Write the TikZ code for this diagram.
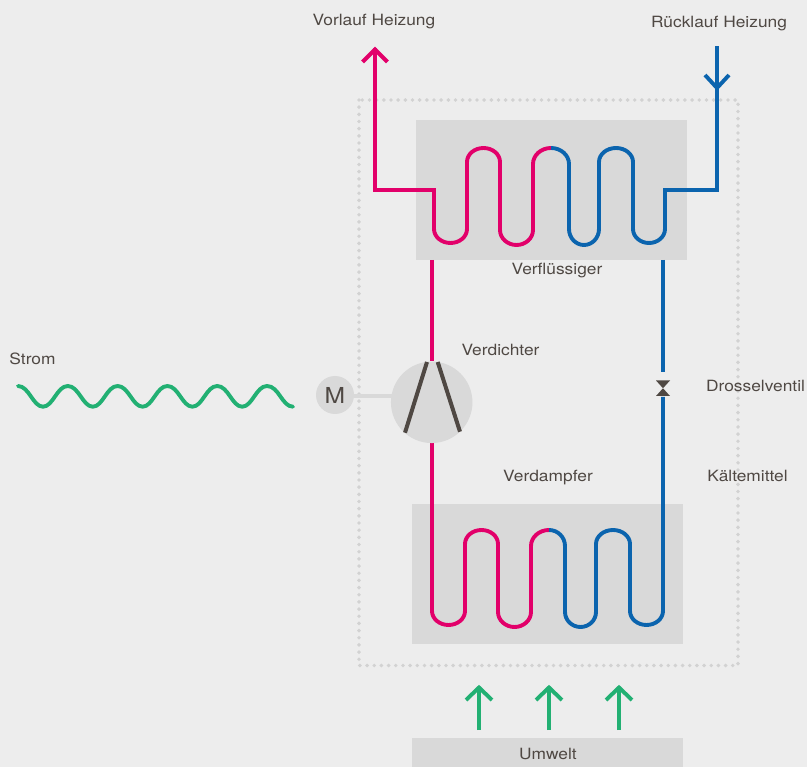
\documentclass[tikz,border=0pt]{standalone}
\usepackage{fontspec}
\setmainfont[FakeStretch=1.12]{TeX Gyre Heros}
\definecolor{bgc}{HTML}{EDEDED}
\definecolor{boxc}{HTML}{D9D9D9}
\definecolor{pinkc}{HTML}{E2006A}
\definecolor{bluec}{HTML}{0B64AE}
\definecolor{greenc}{HTML}{22B073}
\definecolor{darkc}{HTML}{4F4843}
\definecolor{dotc}{HTML}{D2D2D2}
\tikzset{
  pipe/.style={line width=3.9pt,line join=miter},
  lbl/.style={font=\fontsize{15.5}{17}\selectfont,text=darkc,inner sep=0pt,anchor=base},
  panel/.style={fill=boxc,draw=none},
}
\begin{document}
\begin{tikzpicture}[x=1pt,y=-1pt]
\useasboundingbox (0,0) rectangle (807,767);
\fill[bgc] (0,0) rectangle (807,767);
% dotted frame
\draw[dotc,line width=3.9pt,line cap=round,dash pattern=on 0pt off 7.17pt] (359,100) rectangle (738,665.5);
% panels
\fill[panel] (416,120) rectangle (687,260);
\fill[panel] (412,504) rectangle (683,644);
\fill[panel] (412,738) rectangle (683,767);
\coordinate (vl) at (375,48);
\coordinate (rl) at (717,46);
% upper coil pink
\draw[pinkc,pipe] (375,190) -- (434,190) -- (434,229) arc[start angle=180,end angle=0,x radius=16.5,y radius=14] -- (467,162) arc[start angle=180,end angle=0,x radius=16.5,y radius=-14] -- (500,230) arc[start angle=180,end angle=0,x radius=16.5,y radius=15] -- (533,164) arc[start angle=180,end angle=90,x radius=18,y radius=-16];
\draw[bluec,pipe] (551,148) arc[start angle=90,end angle=0,x radius=18,y radius=-16] -- (569,229) arc[start angle=180,end angle=0,x radius=15,y radius=16] -- (599,162) arc[start angle=180,end angle=0,x radius=17,y radius=-14] -- (633,229) arc[start angle=180,end angle=0,x radius=16,y radius=14] -- (665,190) -- (717,190);
\draw[pinkc,pipe] (375,191.9) -- (vl);
\draw[pinkc,line width=3.9pt] (362.5,62) -- (375,49.5) -- (387.5,62);
\draw[bluec,pipe] (717,191.9) -- (rl);
\draw[bluec,line width=3.9pt] (705,75) -- (717,88) -- (729,75);
% lower coil
\draw[pinkc,pipe] (432,443) -- (432,611) arc[start angle=180,end angle=0,x radius=16.5,y radius=14] -- (465,544) arc[start angle=180,end angle=0,x radius=16.5,y radius=-14] -- (498,612) arc[start angle=180,end angle=0,x radius=16.5,y radius=15] -- (531,546) arc[start angle=180,end angle=90,x radius=18,y radius=-16];
\draw[bluec,pipe] (549,530) arc[start angle=90,end angle=0,x radius=16,y radius=-16] -- (565,612) arc[start angle=180,end angle=0,x radius=15.5,y radius=15] -- (596,544) arc[start angle=180,end angle=0,x radius=17,y radius=-14] -- (630,611) arc[start angle=180,end angle=0,x radius=16.5,y radius=14] -- (663,397);
\draw[pinkc,pipe] (432,260) -- (432,361);
\draw[bluec,pipe] (663,260) -- (663,372);
% valve
\fill[darkc] (656,380.5) -- (670,380.5) -- (656,396) -- (670,396) -- cycle;
% motor, compressor
\draw[boxc,line width=3.9pt] (354,396) -- (392,396);
\node[circle,fill=boxc,minimum size=38pt,inner sep=0pt,font=\fontsize{22}{24}\selectfont,text=darkc] (m) at (335,395) {M};
\node[circle,fill=boxc,minimum size=81.5pt,inner sep=0pt] (c) at (431.7,402.3) {};
\draw[darkc,line width=4pt] (427,362) -- (405,432.7);
\draw[darkc,line width=4pt] (437.7,362) -- (460,431.7);
% arrows
\foreach \n/\x in {a/479,b/549,c/619}{
  \draw[greenc,line width=3.9pt] (\x,730) -- (\x,687);
  \draw[greenc,line width=3.9pt] (\x-13,700) -- (\x,687.5) -- (\x+13,700);
}
% wave
\draw[greenc,line width=3.9pt,line cap=round] (18,386)
 \foreach \i in {0,1,2,3,4}{ .. controls (18+49.8*\i+11,386) and (18+49.8*\i+15,406.7) .. (18+49.8*\i+25,406.7) .. controls (18+49.8*\i+35,406.7) and (18+49.8*\i+39,386) .. (18+49.8*\i+49.8,386)} .. controls (278.9,386) and (282,406.7) .. (293,406.7);
% labels
\node[lbl] (t1) at (374,26) {Vorlauf Heizung};
\node[lbl] (t2) at (719,28) {Rücklauf Heizung};
\node[lbl] (t3) at (557,275) {Verflüssiger};
\node[lbl] (t4) at (500.5,356) {Verdichter};
\node[lbl] (t5) at (755.5,392) {Drosselventil};
\node[lbl] (t6) at (747.5,482) {Kältemittel};
\node[lbl] (t7) at (548,482) {Verdampfer};
\node[lbl] (t8) at (32.5,365) {Strom};
\node[lbl] (t9) at (548,759) {Umwelt};
\end{tikzpicture}
\end{document}
